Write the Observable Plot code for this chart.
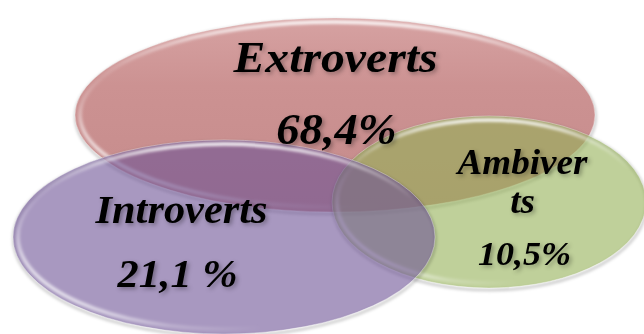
<!DOCTYPE html>
<html><head><meta charset="utf-8">
<script src="https://cdn.jsdelivr.net/npm/d3@7"></script>
<script src="https://cdn.jsdelivr.net/npm/@observablehq/plot@0.6"></script>
<style>
html,body{margin:0;padding:0;background:#fff;}
#chart{width:644px;height:334px;overflow:hidden;}
#chart svg{display:block;}
#chart svg g[aria-label="text"], #chart svg g[aria-label="text"] text{font-family:"Liberation Serif","Times New Roman",serif !important;font-weight:bold;font-style:italic;}
#chart svg g[aria-label="text"] text{filter:drop-shadow(2px 2px 2px rgba(0,0,0,0.32));}
</style></head><body><div id="chart"></div>
<script>
// ---- data ----
const categories = ["Extroverts", "Introverts", "Ambiverts"];
const values = [68.4, 21.1, 10.5];
const valueLabels = ["68,4%", "21,1 %", "10,5%"];
const nameLines = [["Extroverts"], ["Introverts"], ["Ambiver", "ts"]];

// ---- layout (pixel frame 644 x 334) ----
const ellipseCx = [335, 224, 489];
const ellipseCy = [115, 237, 202];
const ellipseRx = [260, 211, 157];
const ellipseRy = [97, 97, 86];
const drawOrder = [0, 2, 1];
const fillColors = ["url(#redFill)", "rgba(110,83,150,0.6)", "rgba(148,177,87,0.6)"];
const nameX = [[335], [181], [522, 522]];
const nameY = [[57.5], [210], [162, 201]];
const nameSize = [45, 40, 35];
const valueX = [336, 177, 524];
const valueY = [129, 274, 254];
const valueSize = [44, 40, 34];

function ellipses(index, scales) {
  const g = d3.create("svg:g");
  const defs = g.append("defs");
  const rf = defs.append("linearGradient").attr("id", "redFill").attr("x1", 0).attr("y1", 0).attr("x2", 0).attr("y2", 1);
  rf.append("stop").attr("offset", 0).attr("stop-color", "#d6a2a2");
  rf.append("stop").attr("offset", 0.35).attr("stop-color", "#cc9292");
  rf.append("stop").attr("offset", 1).attr("stop-color", "#c58b8b");
  const top = defs.append("linearGradient").attr("id", "hlTop").attr("x1", 0).attr("y1", 0).attr("x2", 0).attr("y2", 1);
  top.append("stop").attr("offset", 0).attr("stop-color", "#fff").attr("stop-opacity", 0.95);
  top.append("stop").attr("offset", 0.12).attr("stop-color", "#fff").attr("stop-opacity", 0.45);
  top.append("stop").attr("offset", 0.3).attr("stop-color", "#fff").attr("stop-opacity", 0);
  top.append("stop").attr("offset", 1).attr("stop-color", "#fff").attr("stop-opacity", 0);
  const ll = defs.append("linearGradient").attr("id", "hlLow").attr("x1", 0).attr("y1", 0.75).attr("x2", 0.3).attr("y2", 0.55);
  ll.append("stop").attr("offset", 0).attr("stop-color", "#fff").attr("stop-opacity", 0.95);
  ll.append("stop").attr("offset", 0.5).attr("stop-color", "#fff").attr("stop-opacity", 0.25);
  ll.append("stop").attr("offset", 1).attr("stop-color", "#fff").attr("stop-opacity", 0);
  defs.append("filter").attr("id", "blur2").append("feGaussianBlur").attr("stdDeviation", 1.4);
  for (const i of drawOrder) {
    const cx = scales.x(ellipseCx[i]), cy = scales.y(ellipseCy[i]);
    const rx = scales.x(ellipseCx[i] + ellipseRx[i]) - cx;
    const ry = scales.y(ellipseCy[i] + ellipseRy[i]) - cy;
    const e = g.append("g").attr("aria-label", categories[i]);
    e.append("ellipse").attr("cx", cx + 0.5).attr("cy", cy + 2).attr("rx", rx).attr("ry", ry)
      .attr("fill", "none").attr("stroke", "rgba(0,0,0,0.22)").attr("stroke-width", 2.5).attr("filter", "url(#blur2)");
    e.append("ellipse").attr("cx", cx).attr("cy", cy).attr("rx", rx).attr("ry", ry)
      .attr("fill", fillColors[i]).attr("stroke", "rgba(255,255,255,0.35)").attr("stroke-width", 1);
    e.append("ellipse").attr("cx", cx).attr("cy", cy).attr("rx", rx - 4).attr("ry", ry - 4)
      .attr("fill", "none").attr("stroke", "url(#hlTop)").attr("stroke-width", 3.5).attr("filter", "url(#blur2)");
    e.append("ellipse").attr("cx", cx).attr("cy", cy).attr("rx", rx - 5).attr("ry", ry - 5)
      .attr("fill", "none").attr("stroke", "url(#hlLow)").attr("stroke-width", 3.5).attr("filter", "url(#blur2)");
  }
  return g.node();
}

const textFont = {fontFamily: "'Liberation Serif', 'Times New Roman', serif", fontWeight: "bold", fontStyle: "italic", fill: "#000", textAnchor: "middle", lineAnchor: "middle"};
const textMarks = [];
categories.forEach((c, i) => {
  nameLines[i].forEach((line, j) => {
    textMarks.push(Plot.text([{t: line, x: nameX[i][j], y: nameY[i][j]}], {x: "x", y: "y", text: "t", fontSize: nameSize[i], ...textFont}));
  });
  textMarks.push(Plot.text([{t: valueLabels[i], x: valueX[i], y: valueY[i], v: values[i]}], {x: "x", y: "y", text: "t", fontSize: valueSize[i], ...textFont}));
});

const chart = Plot.plot({
  width: 644, height: 334, margin: 0,
  x: {domain: [0, 644], range: [0, 644], axis: null},
  y: {domain: [0, 334], range: [0, 334], axis: null},
  style: {background: "#fff", overflow: "hidden"},
  marks: [ellipses, ...textMarks]
});
chart.querySelectorAll('g[aria-label="text"] text').forEach(t => {
  const tr = t.getAttribute("transform");
  if (tr) t.setAttribute("transform", tr + " scale(1.06,1)");
});
document.getElementById("chart").appendChild(chart);
</script></body></html>
